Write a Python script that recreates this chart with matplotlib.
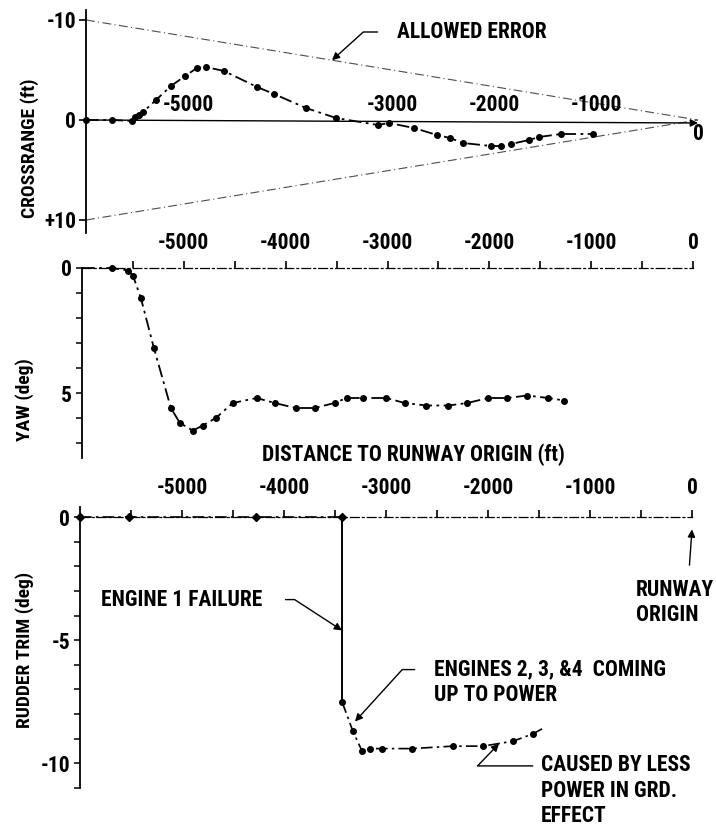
import matplotlib
matplotlib.use("Agg")
import matplotlib.pyplot as plt
from matplotlib import font_manager
from matplotlib.ticker import FixedLocator

# crossrange error during approach (ft), negative = up on the chart
cr_x = [-6000, -5745, -5549, -5520, -5480, -5441, -5314, -5167, -5029, -4912,
        -4824, -4647, -4323, -4157, -3843, -3549, -3137, -3029, -2784, -2559,
        -2431, -2304, -2029, -1931, -1833, -1657, -1559, -1343, -1029]
cr_y = [0, 0, 0.1, -0.3, -0.5, -0.8, -2.0, -3.4, -4.4, -5.2,
        -5.3, -4.9, -3.3, -2.6, -1.2, -0.2, 0.5, 0.3, 0.8, 1.5,
        1.8, 2.3, 2.6, 2.6, 2.4, 2.0, 1.7, 1.4, 1.4]

# allowed error envelope
err_x = [-6000, 0]
err_hi = [-10, 0]
err_lo = [10, 0]

# yaw angle (deg)
yaw_x = [-6000, -5706, -5549, -5500, -5422, -5294, -5127, -5039, -4912, -4814,
         -4686, -4520, -4284, -4108, -3902, -3716, -3520, -3402, -3245, -3010,
         -2833, -2618, -2402, -2216, -2010, -1824, -1627, -1422, -1265]
yaw_y = [0, 0, 0.1, 0.3, 1.2, 3.2, 5.6, 6.2, 6.5, 6.3,
         6.0, 5.4, 5.2, 5.4, 5.6, 5.6, 5.4, 5.2, 5.2, 5.2,
         5.4, 5.5, 5.5, 5.4, 5.2, 5.2, 5.1, 5.2, 5.3]

# rudder trim (deg)
rt_x = [-6000, -5520, -4270, -3431, -3431, -3324, -3235, -3157, -3039, -2745,
        -2343, -2049, -1755, -1559, -1471]
rt_y = [0, 0, 0, 0, -7.5, -8.7, -9.5, -9.4, -9.4, -9.4,
        -9.3, -9.3, -9.1, -8.8, -8.6]

dist_ticks = [-5000, -4000, -3000, -2000, -1000, 0]
dist_minor = [-5500, -4500, -3500, -2500, -1500, -500]
top_labels = [-5000, -3000, -2000, -1000]


def _weight(f):
    w = f.weight
    return font_manager.weight_dict.get(w, 400) if isinstance(w, str) else w


# a narrow bold face suits the lettering best; fall back to plain bold
bold_narrow = {f.name: f for f in font_manager.fontManager.ttflist
               if ("Narrow" in f.name or "Condensed" in f.name
                   or f.stretch in ("condensed", "semi-condensed"))
               and _weight(f) >= 600}
preferred = ["Liberation Sans Narrow", "Roboto Condensed", "Open Sans Condensed",
             "Noto Sans Condensed", "DejaVu Sans Condensed"]
pick = [n for n in preferred if n in bold_narrow] + sorted(bold_narrow)
if pick:
    FONT, FS, FS_T = pick[0], 15.5, 14
    plt.rcParams["font.stretch"] = bold_narrow[FONT].stretch
else:
    FONT, FS, FS_T = "Liberation Sans", 13, 12.5
plt.rcParams["font.family"] = [FONT, "DejaVu Sans"]
plt.rcParams["font.weight"] = "bold"
plt.rcParams["font.size"] = FS

W, H = 716, 836
fig = plt.figure(figsize=(W / 100, H / 100), dpi=100)


def add_axes(left, top, right, bottom):
    return fig.add_axes([left / W, 1 - bottom / H, (right - left) / W, (bottom - top) / H])


dashdot = (0, (7, 2.5, 1.5, 2.5))
arrow = dict(arrowstyle="-|>", color="k", lw=1.0, mutation_scale=11,
             shrinkA=0, shrinkB=0)


def leader(angle, relpos, gap):
    return dict(arrow, connectionstyle=f"angle,angleA=0,angleB={angle},rad=0",
                relpos=relpos, shrinkA=gap)


# ---- crossrange ----
ax1 = add_axes(86, 10, 698, 233)
ax1.set_xlim(-6000, 0)
ax1.set_ylim(11.3, -11)
for s in ("top", "right", "bottom"):
    ax1.spines[s].set_visible(False)
ax1.spines["left"].set_linewidth(1.3)
ax1.set_xticks([])
ax1.set_yticks([-10, 0, 10])
ax1.set_yticklabels(["-10", "0", "+10"])
ax1.tick_params(axis="y", direction="out", length=5, width=1.2, pad=2)

ax1.plot(err_x, err_hi, color="0.3", lw=0.8, ls=(0, (8, 3, 1, 3)), clip_on=False)
ax1.plot(err_x, err_lo, color="0.3", lw=0.8, ls=(0, (8, 3, 1, 3)), clip_on=False)
ax1.annotate("", xy=(0, 0.3), xytext=(-6000, 0), arrowprops=arrow)
ax1.plot(cr_x, cr_y, color="k", lw=1.3, ls=dashdot, marker="o", ms=4,
         clip_on=False, zorder=3)
for v in top_labels:
    ax1.text(v, -0.4, str(v), ha="center", va="bottom")
ax1.text(0, 1.4, "0", ha="center", va="center", clip_on=False)

ax1.annotate("ALLOWED ERROR", xy=(-3588, -5.98), xytext=(-2951, -8.8),
             va="center", ha="left", arrowprops=leader(42, (0, 0.5), 12),
             annotation_clip=False)

# ---- yaw ----
ax2 = add_axes(82, 268, 693, 458)
ax2.set_xlim(-6000, 0)
ax2.set_ylim(7.6, 0)
for s in ("right", "bottom"):
    ax2.spines[s].set_visible(False)
ax2.spines["left"].set_linewidth(1.3)
ax2.spines["top"].set_linewidth(0.9)
ax2.spines["top"].set_linestyle(dashdot)
ax2.xaxis.tick_top()
ax2.set_xticks(dist_ticks)
ax2.set_xticklabels([str(v) for v in dist_ticks])
ax2.xaxis.set_minor_locator(FixedLocator(dist_minor))
ax2.tick_params(axis="x", which="both", direction="out", length=5, width=1.2, pad=5)
ax2.set_yticks(range(0, 8))
ax2.set_yticklabels(["0", "", "", "", "", "5", "", ""])
ax2.tick_params(axis="y", direction="out", length=4, width=1.1, pad=3)
ax2.plot(yaw_x, yaw_y, color="k", lw=1.3, ls=dashdot, marker="o", ms=4,
         markevery=slice(1, None), clip_on=False, zorder=3)

fig.text(413 / W, 1 - 455 / H, "DISTANCE TO RUNWAY ORIGIN (ft)", ha="center", va="center")

# ---- rudder trim ----
ax3 = add_axes(80, 507, 692, 788)
ax3.set_xlim(-6000, 0)
ax3.set_ylim(-11.0, 0.41)
for s in ("right", "bottom"):
    ax3.spines[s].set_visible(False)
ax3.spines["left"].set_linewidth(1.3)
ax3.spines["top"].set_position(("data", 0))
ax3.spines["top"].set_linewidth(0.9)
ax3.spines["top"].set_linestyle(dashdot)
ax3.xaxis.tick_top()
ax3.set_xticks(dist_ticks)
ax3.set_xticklabels([str(v) for v in dist_ticks])
ax3.xaxis.set_minor_locator(FixedLocator(dist_minor))
ax3.tick_params(axis="x", which="both", direction="out", length=5, width=1.2, pad=8)
ax3.set_yticks(range(0, -12, -1))
ax3.set_yticklabels(["0", "", "", "", "", "-5", "", "", "", "", "-10", ""])
ax3.tick_params(axis="y", direction="out", length=4, width=1.1, pad=3)

ax3.plot(rt_x[:4], rt_y[:4], color="k", lw=1.2, ls=dashdot, marker="D", ms=4.5,
         clip_on=False, zorder=3)
ax3.plot(rt_x[3:5], rt_y[3:5], color="k", lw=1.4, clip_on=False, zorder=3)
ax3.plot(rt_x[4:], rt_y[4:], color="k", lw=1.2, ls=dashdot, marker="o", ms=4,
         markevery=slice(0, len(rt_x) - 5), clip_on=False, zorder=3)

ax3.annotate("ENGINE 1 FAILURE", xy=(-3431, -4.6), xytext=(-4216, -3.35),
             ha="right", va="center", arrowprops=leader(-33, (1, 0.5), 15),
             annotation_clip=False)
ax3.annotate("ENGINES 2, 3, &4  COMING\nUP TO POWER", xy=(-3304, -8.3),
             xytext=(-2529, -5.73), ha="left", va="top",
             arrowprops=leader(47.7, (0, 0.76), 12),
             linespacing=1.2, annotation_clip=False)
ax3.annotate("CAUSED BY LESS\nPOWER IN GRD.\nEFFECT", xy=(-1892, -9.2),
             xytext=(-1480, -9.63), ha="left", va="top",
             arrowprops=leader(46, (0, 0.84), 4),
             linespacing=1.2, annotation_clip=False)
ax3.annotate("RUNWAY\nORIGIN", xy=(0, -0.5), xytext=(-549, -2.5),
             ha="left", va="top", linespacing=1.2, annotation_clip=False)
ax3.annotate("", xy=(0, -0.5), xytext=(-25, -1.95), arrowprops=arrow,
             annotation_clip=False)

# axis titles
fig.text(30 / W, 1 - 148 / H, "CROSSRANGE (ft)", rotation=90, ha="center", va="center",
         fontsize=FS_T)
fig.text(25 / W, 1 - 400 / H, "YAW (deg)", rotation=90, ha="center", va="center",
         fontsize=FS_T)
fig.text(25 / W, 1 - 650 / H, "RUDDER TRIM (deg)", rotation=90, ha="center", va="center",
         fontsize=FS_T)

fig.savefig("out.png", dpi=100)
